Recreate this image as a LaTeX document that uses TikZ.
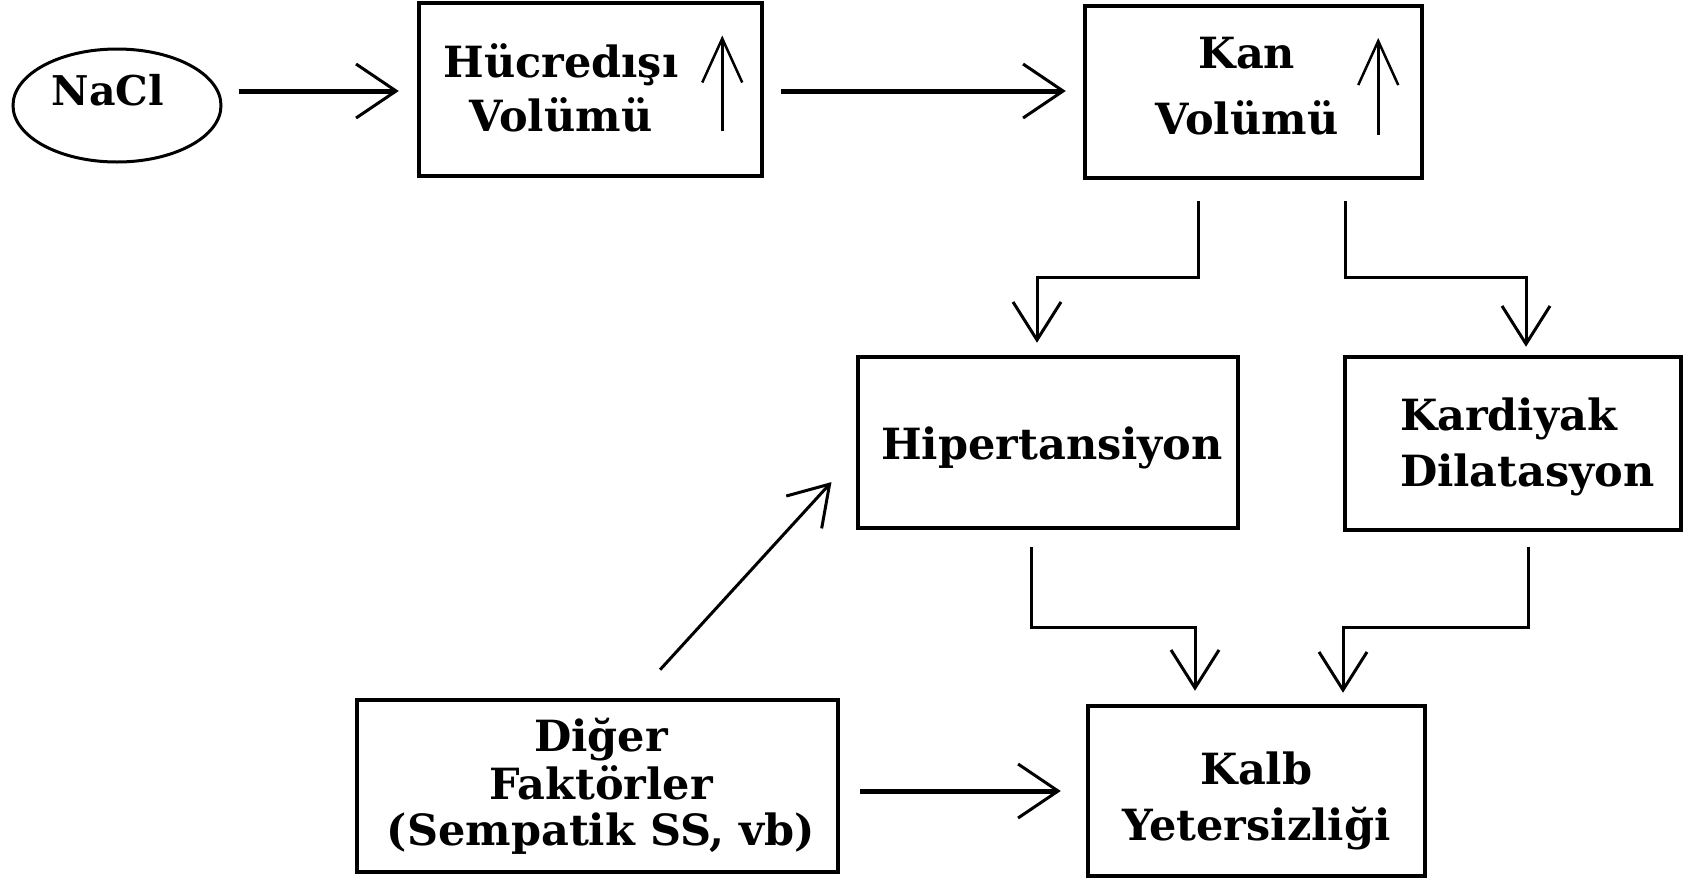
\documentclass[tikz,border=0pt]{standalone}
\usepackage{fontspec}
\setmainfont{DejaVu Serif}
\usetikzlibrary{arrows.meta,shapes.geometric,calc}
\newcommand\ctext[4]{\makebox[0pt][c]{\raisebox{#2}[0pt][0pt]{\hspace*{#1}\begin{tabular}[t]{@{}#3@{}}#4\end{tabular}}}}
\newcommand\ltext[3]{\makebox[0pt][l]{\raisebox{#2}[0pt][0pt]{\hspace*{#1}\begin{tabular}[t]{@{}l@{}}#3\end{tabular}}}}
\begin{document}
\begin{tikzpicture}[x=1pt,y=-1pt,
 lbl/.style={font=\fontsize{43}{#1}\selectfont\bfseries},
 box/.style={draw, line width=4.5pt, rectangle, inner sep=0pt},
 conn/.style={line width=3pt, -{Straight Barb[length=38pt,width=48pt]}},
 harr/.style={line width=5pt, -{Straight Barb[length=40pt,width=54pt,line width=3pt]}},
 uparr/.style={line width=2.5pt, -{Straight Barb[length=44pt,width=40pt]}}]
\useasboundingbox (0,0) rectangle (1692,879);
\node[draw, ellipse, line width=3pt, minimum width=208pt, minimum height=113pt, inner sep=0pt, font=\fontsize{41}{54}\selectfont\bfseries] (nacl) at (117,105.5) {\ctext{-18pt}{-0.4pt}{c}{NaCl}};
\node[box, minimum width=343pt, minimum height=173pt, lbl=54] (huc) at (590.5,89.5) {\ctext{-59pt}{11.8pt}{c}{Hücredışı\\Volümü}};
\node[box, minimum width=337pt, minimum height=172pt, lbl=66] (kan) at (1253.5,92) {\ctext{-13pt}{23.3pt}{c}{Kan\\Volümü}};
\node[box, minimum width=380pt, minimum height=171pt, lbl=54] (hip) at (1048,442.5) {\ctext{8pt}{-17.2pt}{c}{Hipertansiyon}};
\node[box, minimum width=336pt, minimum height=173pt, lbl=56] (kard) at (1513,443.5) {\ltext{-113pt}{12.8pt}{Kardiyak\\Dilatasyon}};
\node[box, minimum width=481pt, minimum height=172pt, lbl=46] (dig) at (597.5,786) {\ctext{7pt}{34.3pt}{c}{Diğer\\Faktörler\\(Sempatik SS, vb)}};
\node[box, minimum width=337pt, minimum height=170pt, lbl=56] (kalb) at (1256.5,791) {\ctext{0pt}{6.3pt}{c}{Kalb\\Yetersizliği}};
\coordinate (r1) at (0,91);
\coordinate (r3) at (0,791);
\coordinate (k1) at (1198,277); \coordinate (k2) at (1037,277);
\coordinate (k3) at (1345,277); \coordinate (k4) at (1526,277);
\coordinate (h1) at (1031,627); \coordinate (h2) at (1195,627);
\coordinate (c1) at (1528,627); \coordinate (c2) at (1343,627);
\draw[harr, shorten <=16pt, shorten >=18pt] (nacl.east |- r1) -- (huc.west |- r1);
\draw[harr, shorten <=17pt, shorten >=17pt] (huc.east |- r1) -- (kan.west |- r1);
\draw[conn, shorten <=21pt, shorten >=12pt] (kan.south -| k1) -- (k1) -- (k2) -- (hip.north -| k2);
\draw[conn, shorten <=21pt, shorten >=8pt] (kan.south -| k3) -- (k3) -- (k4) -- (kard.north -| k4);
\draw[conn, shorten <=17pt, shorten >=13pt] (hip.south -| h1) -- (h1) -- (h2) -- (kalb.north -| h2);
\draw[conn, shorten <=15pt, shorten >=11pt] (kard.south -| c1) -- (c1) -- (c2) -- (kalb.north -| c2);
\draw[conn, shorten <=38pt, shorten >=36pt] ($(dig.north west)+(279.7,0)$) -- ($(hip.west)+(0,13)$);
\draw[harr, shorten <=20pt, shorten >=25pt] (dig.east |- r3) -- (kalb.west |- r3);
\draw[uparr] ($(huc.east)+(-42,41)$) -- ($(huc.east)+(-42,-54)$);
\draw[uparr] ($(kan.east)+(-46,43)$) -- ($(kan.east)+(-46,-54)$);
\end{tikzpicture}
\end{document}
